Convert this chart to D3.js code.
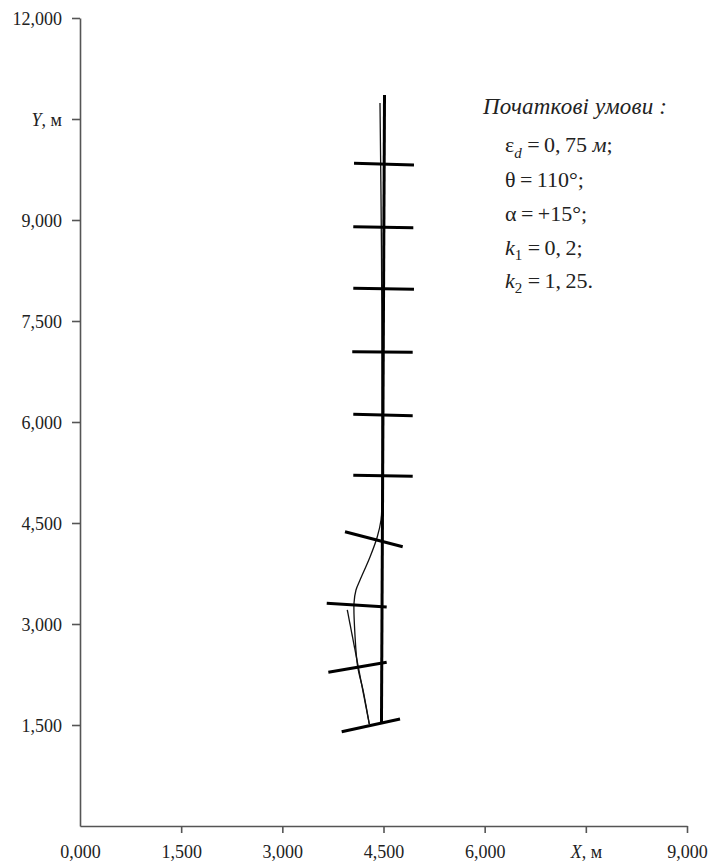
<!DOCTYPE html>
<html>
<head>
<meta charset="utf-8">
<script src="https://cdn.jsdelivr.net/npm/d3@7"></script>
<style>
	body { margin: 0; background: #fff; }
	text { font-family: "Liberation Serif", "Times New Roman", serif; fill: #222; }
</style>
</head>
<body>
<div id="traj"></div>
<script>
// axis ticks (m) and their printed labels
const xTicks = [0, 1500, 3000, 4500, 6000, 7500, 9000];
const xTickLabels = ["0,000", "1,500", "3,000", "4,500", "6,000", "X", "9,000"];
const yTicks = [1500, 3000, 4500, 6000, 7500, 9000, 10500, 12000];
const yTickLabels = ["1,500", "3,000", "4,500", "6,000", "7,500", "9,000", "Y", "12,000"];

// given course line (thick), m
const courseLine = [[4470, 1545], [4515, 10856]];

// actual track of the vessel (thin), m
const trackPath = [
	[4289, 1515], [4196, 2020], [4117, 2366], [4077, 2837], [4063, 3312],
	[4092, 3505], [4152, 3653], [4300, 3995], [4408, 4296], [4463, 4544],
	[4478, 4841], [4478, 6327], [4470, 8554], [4448, 10737]
];

// second thin branch, m
const driftLine = [[3963, 3208], [4289, 1515]];

// hull positions: x1, y1, x2, y2 (m)
const hullBars = [
	[3880, 1400, 4745, 1589],
	[3682, 2283, 4547, 2431],
	[3658, 3307, 4547, 3252],
	[3929, 4371, 4785, 4148],
	[4052, 5208, 4933, 5193],
	[4052, 6114, 4933, 6093],
	[4037, 7044, 4933, 7035],
	[4052, 7985, 4952, 7970],
	[4052, 8900, 4942, 8885],
	[4063, 9842, 4952, 9817]
];

drawtraj()

function drawtraj() {
	const W = 709, H = 865;

	const svg = d3.select("#traj")
		.append("svg")
		.attr("width", W)
		.attr("height", H);

	const x = d3.scaleLinear()
		.domain([0, 9000])
		.range([80, 687]);

	const y = d3.scaleLinear()
		.domain([0, 12000])
		.range([826, 18]);

	// axes
	const xAxis = d3.axisBottom(x)
		.tickValues(xTicks)
		.tickSize(7)
		.tickSizeOuter(0)
		.tickFormat((d, i) => "");
	const yAxis = d3.axisLeft(y)
		.tickValues(yTicks)
		.tickSize(8)
		.tickSizeOuter(0)
		.tickFormat((d, i) => "");

	const gx = svg.append("g")
		.attr("class", "x-axis")
		.attr("transform", `translate(0,${y(0)})`)
		.call(xAxis);
	const gy = svg.append("g")
		.attr("class", "y-axis")
		.attr("transform", `translate(${x(0)},0)`)
		.call(yAxis);

	svg.selectAll(".x-axis path, .y-axis path, .x-axis line, .y-axis line")
		.attr("stroke", "#555")
		.attr("stroke-width", 1.6);
	// no tick mark at the origin
	gx.selectAll(".tick line").filter(d => d === 0).remove();

	// tick labels
	gx.selectAll(".tick").each(function(d, i) {
		var t = d3.select(this).append("text")
			.attr("y", 32)
			.attr("text-anchor", "middle")
			.style("font-size", "18px")
			.attr("fill", "#222");
		if (xTickLabels[i] === "X") {
			t.append("tspan").style("font-style", "italic").text("X");
			t.append("tspan").text(", м");
		} else {
			t.text(xTickLabels[i]);
		}
	});
	gy.selectAll(".tick").each(function(d, i) {
		var t = d3.select(this).append("text")
			.attr("x", -18)
			.attr("dy", "0.34em")
			.attr("text-anchor", "end")
			.style("font-size", "18px")
			.attr("fill", "#222");
		if (yTickLabels[i] === "Y") {
			t.append("tspan").style("font-style", "italic").text("Y");
			t.append("tspan").text(", м");
		} else {
			t.text(yTickLabels[i]);
		}
	});

	const line = d3.line()
		.x(d => x(d[0]))
		.y(d => y(d[1]));

	// thin track
	svg.append("path")
		.datum(trackPath)
		.attr("d", line.curve(d3.curveCatmullRom))
		.attr("fill", "none")
		.attr("stroke", "#111")
		.attr("stroke-width", 1.3);

	svg.append("path")
		.datum(driftLine)
		.attr("d", d3.line().x(d => x(d[0])).y(d => y(d[1])))
		.attr("fill", "none")
		.attr("stroke", "#111")
		.attr("stroke-width", 1.3);

	// thick course
	svg.append("path")
		.datum(courseLine)
		.attr("d", d3.line().x(d => x(d[0])).y(d => y(d[1])))
		.attr("fill", "none")
		.attr("stroke", "#000")
		.attr("stroke-width", 3);

	// hull bars
	svg.append("g")
		.selectAll("line")
		.data(hullBars)
		.join("line")
		.attr("x1", d => x(d[0]))
		.attr("y1", d => y(d[1]))
		.attr("x2", d => x(d[2]))
		.attr("y2", d => y(d[3]))
		.attr("stroke", "#000")
		.attr("stroke-width", 3);

	// initial conditions
	var note = svg.append("g")
		.attr("id", "note")
		.style("font-size", "22px");

	note.append("text")
		.attr("x", 483)
		.attr("y", 114)
		.style("font-style", "italic")
		.style("font-size", "23px")
		.attr("textLength", 184)
		.text("Початкові умови :");

	var eq = "\u2009=\u2009";
	var l1 = note.append("text").attr("x", 505).attr("y", 152);
	l1.append("tspan").text("ε");
	l1.append("tspan").attr("dy", 6).style("font-size", "15px").style("font-style", "italic").text("d");
	l1.append("tspan").attr("dy", -6).text(" =\u20090,\u200975 ");
	l1.append("tspan").style("font-style", "italic").text("м");
	l1.append("tspan").text(";");

	note.append("text").attr("x", 505).attr("y", 187).text("θ" + eq + "110°;");
	note.append("text").attr("x", 505).attr("y", 221).text("α" + eq + "+15°;");

	var l4 = note.append("text").attr("x", 505).attr("y", 255);
	l4.append("tspan").style("font-style", "italic").text("k");
	l4.append("tspan").attr("dy", 5).style("font-size", "15px").text("1");
	l4.append("tspan").attr("dy", -5).text(" =\u20090,\u20092;");

	var l5 = note.append("text").attr("x", 505).attr("y", 288);
	l5.append("tspan").style("font-style", "italic").text("k");
	l5.append("tspan").attr("dy", 5).style("font-size", "15px").text("2");
	l5.append("tspan").attr("dy", -5).text(" =\u20091,\u200925.");
}
</script>
</body>
</html>
